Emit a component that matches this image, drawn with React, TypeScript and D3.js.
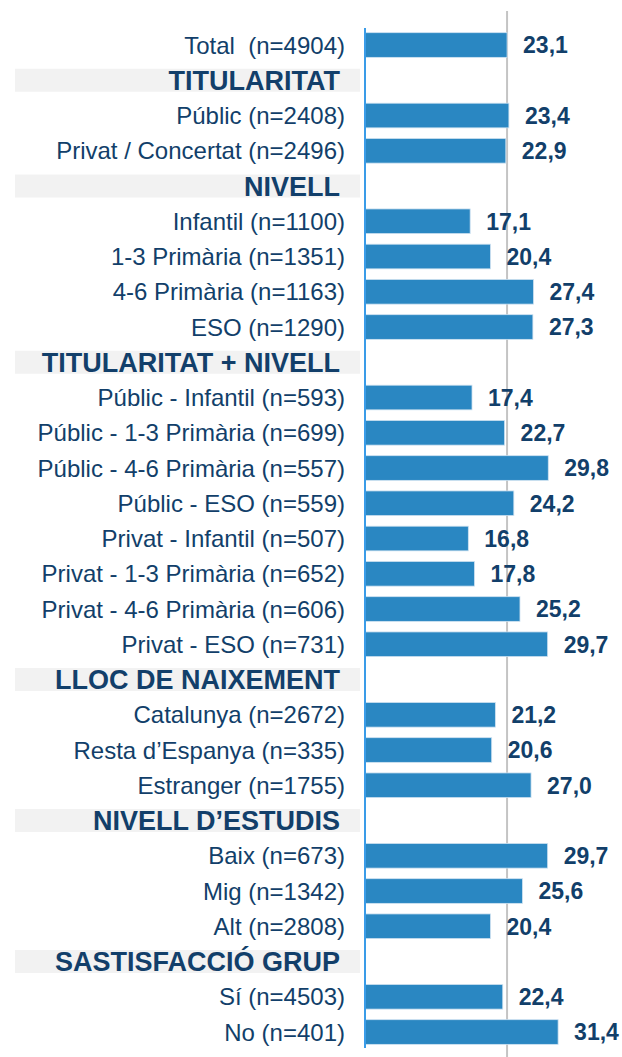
import { useEffect, useRef } from 'react'
import * as d3 from 'd3'

const categories = [
  'Total  (n=4904)',
  'TITULARITAT',
  'Públic (n=2408)',
  'Privat / Concertat (n=2496)',
  'NIVELL',
  'Infantil (n=1100)',
  '1-3 Primària (n=1351)',
  '4-6 Primària (n=1163)',
  'ESO (n=1290)',
  'TITULARITAT + NIVELL',
  'Públic - Infantil (n=593)',
  'Públic - 1-3 Primària (n=699)',
  'Públic - 4-6 Primària (n=557)',
  'Públic - ESO (n=559)',
  'Privat - Infantil (n=507)',
  'Privat - 1-3 Primària (n=652)',
  'Privat - 4-6 Primària (n=606)',
  'Privat - ESO (n=731)',
  'LLOC DE NAIXEMENT',
  'Catalunya (n=2672)',
  'Resta d’Espanya (n=335)',
  'Estranger (n=1755)',
  'NIVELL D’ESTUDIS',
  'Baix (n=673)',
  'Mig (n=1342)',
  'Alt (n=2808)',
  'SASTISFACCIÓ GRUP',
  'Sí (n=4503)',
  'No (n=401)',
]

// null = section header row
const values: (number | null)[] = [
  23.1, null, 23.4, 22.9, null, 17.1, 20.4, 27.4, 27.3, null,
  17.4, 22.7, 29.8, 24.2, 16.8, 17.8, 25.2, 29.7, null,
  21.2, 20.6, 27.0, null, 29.7, 25.6, 20.4, null, 22.4, 31.4,
]

const referenceValue = 23.1

const catLocale = d3.formatLocale({ decimal: ',', thousands: '.', grouping: [3], currency: ['', '€'] })
const fmt = catLocale.format('.1f')

export default function App() {
  const svgRef = useRef<SVGSVGElement>(null)

  useEffect(() => {
    if (!svgRef.current) return
    const width = 622
    const height = 1057
    const font = "'Liberation Sans', Arial, sans-serif"
    const textColor = '#123f6a'

    const svg = d3.select(svgRef.current)
    svg.selectAll('*').remove()
    svg.attr('width', width).attr('height', height)

    const y = d3.scaleBand<number>()
      .domain(categories.map((_, i) => i))
      .range([27.4, 27.4 + categories.length * 35.25])
      .paddingInner(0.3)
      .paddingOuter(0.15)

    const x = d3.scaleLinear().domain([0, 35]).range([365, 365 + 35 * 6.15])

    const rows = categories.map((c, i) => ({ label: c, value: values[i], i }))
    const headers = rows.filter(r => r.value === null)
    const items = rows.filter(r => r.value !== null)
    const mid = (i: number) => (y(i) as number) + y.bandwidth() / 2

    // grey header bands
    svg.append('g')
      .selectAll('rect')
      .data(headers)
      .join('rect')
      .attr('x', 15)
      .attr('width', 345)
      .attr('y', d => mid(d.i) - 11.5)
      .attr('height', 23)
      .attr('fill', '#f2f2f2')

    svg.append('g')
      .selectAll('text')
      .data(headers)
      .join('text')
      .attr('x', 340)
      .attr('y', d => mid(d.i))
      .attr('dy', '0.36em')
      .attr('text-anchor', 'end')
      .attr('font-family', font)
      .attr('font-size', 27)
      .attr('font-weight', 'bold')
      .attr('fill', textColor)
      .text(d => d.label)

    // reference line
    svg.append('line')
      .attr('x1', x(referenceValue))
      .attr('x2', x(referenceValue))
      .attr('y1', 11)
      .attr('y2', height)
      .attr('stroke', '#c4c4c4')
      .attr('stroke-width', 2)

    svg.append('g')
      .selectAll('rect')
      .data(items)
      .join('rect')
      .attr('x', x(0))
      .attr('y', d => y(d.i) as number)
      .attr('width', d => x(d.value as number) - x(0))
      .attr('height', y.bandwidth())
      .attr('fill', '#2a87c2')
      .attr('stroke', '#cfe2f1')
      .attr('stroke-width', 0.8)

    // category axis line
    svg.append('line')
      .attr('x1', x(0))
      .attr('x2', x(0))
      .attr('y1', 28)
      .attr('y2', 1048)
      .attr('stroke', '#3a9ce8')
      .attr('stroke-width', 2)

    svg.append('g')
      .selectAll('text')
      .data(items)
      .join('text')
      .attr('x', 345)
      .attr('y', d => mid(d.i))
      .attr('dy', '0.36em')
      .attr('text-anchor', 'end')
      .attr('font-family', font)
      .attr('font-size', 24)
      .attr('fill', textColor)
      .style('white-space', 'pre')
      .text(d => d.label)

    svg.append('g')
      .selectAll('text')
      .data(items)
      .join('text')
      .attr('x', d => x(d.value as number) + 16)
      .attr('y', d => mid(d.i))
      .attr('dy', '0.36em')
      .attr('font-family', font)
      .attr('font-size', 23)
      .attr('font-weight', 'bold')
      .attr('fill', textColor)
      .text(d => fmt(d.value as number))
  }, [])

  return (
    <div style={{ position: 'absolute', left: 0, top: 0 }}>
      <svg ref={svgRef} style={{ display: 'block' }} />
    </div>
  )
}
